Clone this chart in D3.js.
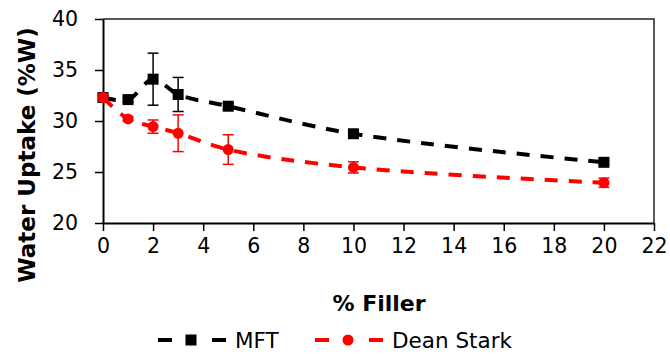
<!DOCTYPE html>
<html>
<head>
<meta charset="utf-8">
<script src="https://cdn.jsdelivr.net/npm/d3@7"></script>
<style>
  html, body { margin: 0; padding: 0; background: #fff; }
  svg { display: block; }
  text { font-family: "DejaVu Sans", sans-serif; fill: #000; }
</style>
</head>
<body>
<svg id="chart" width="670" height="354"></svg>
<script>
// Filler content (%)
const filler = [0, 1, 2, 3, 5, 10, 20];

// Water uptake (%W) measured by MFT, with standard deviations
const mftValues = [32.3, 32.1, 34.1, 32.6, 31.45, 28.75, 25.95];
const mftErrors = [0.2, 0.2, 2.55, 1.67, 0.3, 0.2, 0.2];

// Water uptake (%W) measured by Dean Stark, with standard deviations
const deanValues = [32.3, 30.2, 29.45, 28.8, 27.2, 25.45, 23.95];
const deanErrors = [0.35, 0.2, 0.65, 1.8, 1.45, 0.55, 0.45];

const xTicks = [0, 2, 4, 6, 8, 10, 12, 14, 16, 18, 20, 22];
const yTicks = [20, 25, 30, 35, 40];

const seriesNames = ["MFT", "Dean Stark"];
const seriesColors = ["#000000", "#ff0000"];

const svg = d3.select("#chart");
const plot = { left: 103, right: 654, top: 19, bottom: 223 };

const x = d3.scaleLinear().domain([0, 22]).range([plot.left, plot.right]);
const y = d3.scaleLinear().domain([20, 40]).range([plot.bottom, plot.top]);

// Plot area frame (top and right edges)
svg.append("path")
  .attr("d", `M${plot.left},${plot.top}H${plot.right}V${plot.bottom}`)
  .attr("fill", "none")
  .attr("stroke", "#222")
  .attr("stroke-width", 1.5);

// Y axis
const yAxis = svg.append("g")
  .attr("transform", `translate(${plot.left},0)`)
  .call(d3.axisLeft(y).tickValues(yTicks).tickSize(8).tickPadding(17).tickSizeOuter(0));
yAxis.select(".domain").attr("stroke-width", 2);
yAxis.selectAll(".tick line").attr("stroke-width", 1.5);
yAxis.selectAll(".tick text").style("font-size", "20.5px").attr("fill", "#000");

// X axis
const xAxis = svg.append("g")
  .attr("transform", `translate(0,${plot.bottom})`)
  .call(d3.axisBottom(x).tickValues(xTicks).tickSize(8).tickPadding(7).tickSizeOuter(0));
xAxis.select(".domain").attr("stroke-width", 2);
xAxis.selectAll(".tick line").attr("stroke-width", 1.5);
xAxis.selectAll(".tick text").style("font-size", "20.5px").attr("fill", "#000");

// Axis titles
svg.append("text")
  .attr("transform", "translate(35,155) rotate(-90)")
  .attr("text-anchor", "middle")
  .style("font-size", "23px")
  .style("font-weight", "bold")
  .text("Water Uptake (%W)");

svg.append("text")
  .attr("x", 379)
  .attr("y", 311)
  .attr("text-anchor", "middle")
  .style("font-size", "22px")
  .style("font-weight", "bold")
  .text("% Filler");

// Series
const series = [
  { name: seriesNames[0], color: seriesColors[0], shape: "square",
    points: filler.map((f, i) => ({ x: f, y: mftValues[i], e: mftErrors[i] })) },
  { name: seriesNames[1], color: seriesColors[1], shape: "circle",
    points: filler.map((f, i) => ({ x: f, y: deanValues[i], e: deanErrors[i] })) }
];

const line = d3.line()
  .x(d => x(d.x))
  .y(d => y(d.y))
  .curve(d3.curveCatmullRom.alpha(0.5));

const dash = "13,11";

function drawMarker(g, shape, cx, cy, color) {
  if (shape === "square") {
    g.append("rect")
      .attr("x", cx - 5.5).attr("y", cy - 5.5)
      .attr("width", 11).attr("height", 11)
      .attr("fill", color);
  } else {
    g.append("circle")
      .attr("cx", cx).attr("cy", cy).attr("r", 5.5)
      .attr("fill", color);
  }
}

series.forEach(s => {
  const g = svg.append("g");
  g.append("path")
    .datum(s.points)
    .attr("d", line)
    .attr("fill", "none")
    .attr("stroke", s.color)
    .attr("stroke-width", 4)
    .attr("stroke-dasharray", dash);

  // Error bars
  s.points.forEach(p => {
    const cx = x(p.x), y0 = y(p.y - p.e), y1 = y(p.y + p.e);
    const eb = g.append("g").attr("stroke", s.color).attr("stroke-width", 1.5);
    eb.append("line").attr("x1", cx).attr("x2", cx).attr("y1", y0).attr("y2", y1);
    eb.append("line").attr("x1", cx - 5.5).attr("x2", cx + 5.5).attr("y1", y0).attr("y2", y0);
    eb.append("line").attr("x1", cx - 5.5).attr("x2", cx + 5.5).attr("y1", y1).attr("y2", y1);
  });

  s.points.forEach(p => drawMarker(g, s.shape, x(p.x), y(p.y), s.color));
});

// Legend
const legendItems = [
  { x0: 158, textX: 235 },
  { x0: 315, textX: 392 }
];
const legendY = 340;
series.forEach((s, i) => {
  const it = legendItems[i];
  const g = svg.append("g");
  [[it.x0, it.x0 + 14], [it.x0 + 54, it.x0 + 68]].forEach(([a, b]) => {
    g.append("line")
      .attr("x1", a).attr("x2", b)
      .attr("y1", legendY).attr("y2", legendY)
      .attr("stroke", s.color).attr("stroke-width", 4);
  });
  drawMarker(g, s.shape, it.x0 + 33, legendY, s.color);
  g.append("text")
    .attr("x", it.textX)
    .attr("y", legendY + 8)
    .style("font-size", "21.5px")
    .text(s.name);
});
</script>
</body>
</html>
